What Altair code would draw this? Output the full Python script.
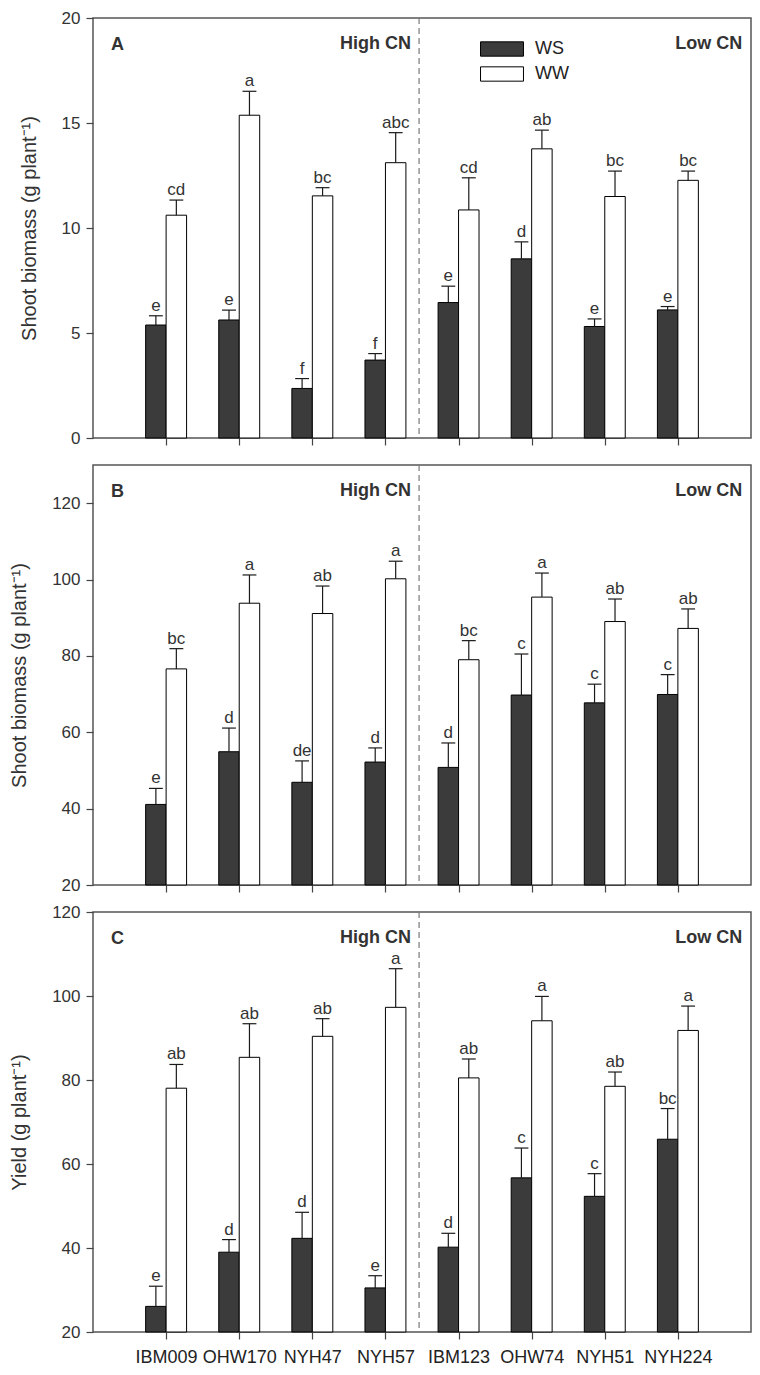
import altair as alt
import pandas as pd

genotypes = ["IBM009", "OHW170", "NYH47", "NYH57", "IBM123", "OHW74", "NYH51", "NYH224"]
positions = [1, 2, 3, 4, 5, 6, 7, 8]
treatments = ["WS", "WW"]

# Panel A: shoot biomass (early)
a_ws = [5.38, 5.62, 2.36, 3.71, 6.45, 8.53, 5.31, 6.10]
a_ws_se = [0.44, 0.47, 0.47, 0.31, 0.78, 0.81, 0.36, 0.16]
a_ww = [10.61, 15.37, 11.53, 13.11, 10.86, 13.77, 11.50, 12.27]
a_ww_se = [0.72, 1.14, 0.39, 1.43, 1.53, 0.89, 1.21, 0.44]
a_ws_let = ["e", "e", "f", "f", "e", "d", "e", "e"]
a_ww_let = ["cd", "a", "bc", "abc", "cd", "ab", "bc", "bc"]

# Panel B: shoot biomass (final)
b_ws = [41.1, 54.9, 46.9, 52.2, 50.8, 69.75, 67.7, 69.9]
b_ws_se = [4.2, 6.2, 5.6, 3.7, 6.4, 10.75, 4.9, 5.2]
b_ww = [76.6, 93.8, 91.1, 100.2, 79.0, 95.4, 89.0, 87.2]
b_ww_se = [5.3, 7.4, 7.2, 4.6, 5.0, 6.3, 5.9, 5.1]
b_ws_let = ["e", "d", "de", "d", "d", "c", "c", "c"]
b_ww_let = ["bc", "a", "ab", "a", "bc", "a", "ab", "ab"]

# Panel C: yield
c_ws = [26.1, 39.0, 42.3, 30.5, 40.2, 56.7, 52.3, 65.9]
c_ws_se = [4.8, 3.0, 6.2, 2.9, 3.3, 7.1, 5.4, 7.3]
c_ww = [78.05, 85.4, 90.4, 97.3, 80.5, 94.1, 78.5, 91.8]
c_ww_se = [5.65, 8.0, 4.2, 9.2, 4.5, 5.8, 3.4, 5.8]
c_ws_let = ["e", "d", "d", "e", "d", "c", "c", "bc"]
c_ww_let = ["ab", "ab", "ab", "a", "ab", "a", "ab", "a"]

group_labels = ["High CN", "Low CN"]
group_label_x = [4.35, 8.88]
divider_x = [4.46]

FONT = "Liberation Sans"
TXT = "#333333"
PW = 658
PH = 420

label_expr = "[" + ",".join("'%s'" % g for g in genotypes) + "][datum.value - 1]"


def make_panel(ws, ws_se, ww, ww_se, ws_let, ww_let, ymin, ymax, yticks,
               ytitle, letter, show_legend, show_labels):
    rows = []
    for i, g in enumerate(genotypes):
        rows.append({"pos": positions[i], "genotype": g, "treatment": "WS",
                     "mean": ws[i], "se": ws_se[i], "letter": ws_let[i]})
        rows.append({"pos": positions[i], "genotype": g, "treatment": "WW",
                     "mean": ww[i], "se": ww_se[i], "letter": ww_let[i]})
    df = pd.DataFrame(rows)

    xscale = alt.Scale(domain=[0, 9], nice=False, zero=False)
    yscale = alt.Scale(domain=[ymin, ymax], nice=False, zero=False)

    xaxis_kw = dict(values=positions, grid=False, domain=False, tickSize=7,
                    tickColor="#444444", tickWidth=1.2, labels=show_labels)
    if show_labels:
        xaxis_kw.update(labelExpr=label_expr, labelFontSize=18, labelColor="#222222",
                        labelPadding=9, labelOverlap=False, labelFont=FONT)
    xaxis = alt.Axis(**xaxis_kw)
    yaxis = alt.Axis(values=yticks, grid=False, domain=False, tickSize=7,
                     tickColor="#444444", tickWidth=1.2, labelFontSize=17,
                     labelColor=TXT, labelPadding=6, labelFont=FONT,
                     titleFontSize=20, titleFontWeight="normal", titleColor=TXT,
                     titlePadding=22, titleFont=FONT)

    def X(field):
        return alt.X(field, scale=xscale, axis=xaxis, title="")

    def Y(field):
        return alt.Y(field, scale=yscale, axis=yaxis, title=ytitle)

    base = alt.Chart(df).transform_calculate(
        x0="datum.treatment == 'WS' ? datum.pos - 0.28 : datum.pos",
        x1="datum.treatment == 'WS' ? datum.pos : datum.pos + 0.28",
        xc="datum.treatment == 'WS' ? datum.pos - 0.14 : datum.pos + 0.14",
        top="datum.mean + datum.se",
    ).transform_calculate(
        xl="datum.xc - 0.095",
        xr="datum.xc + 0.095",
    )

    if show_legend:
        legend = alt.Legend(title=None, orient="none", legendX=400, legendY=22,
                            symbolType="M-3,-1H3V1H-3Z", symbolSize=205,
                            symbolStrokeColor="black", symbolStrokeWidth=1,
                            symbolOpacity=1,
                            labelFontSize=18, labelColor="#222222", labelFont=FONT,
                            labelOffset=24, rowPadding=5)
    else:
        legend = None

    bars = base.mark_bar(stroke="black", strokeWidth=1, opacity=1).encode(
        x=X("x0:Q"),
        x2="x1:Q",
        y=Y("mean:Q"),
        y2=alt.datum(ymin),
        fill=alt.Fill("treatment:N",
                      scale=alt.Scale(domain=treatments, range=["#3b3b3b", "#ffffff"]),
                      legend=legend),
    )
    stems = base.mark_rule(color="#1a1a1a", strokeWidth=1.2).encode(
        x=X("xc:Q"), y=Y("mean:Q"), y2="top:Q")
    caps = base.mark_rule(color="#1a1a1a", strokeWidth=1.2).encode(
        x=X("xl:Q"), x2="xr:Q", y=Y("top:Q"))
    letters = base.mark_text(fontSize=17, dy=-5, baseline="alphabetic",
                             color=TXT, font=FONT).encode(
        x=X("xc:Q"), y=Y("top:Q"), text="letter:N")

    divider = alt.Chart(pd.DataFrame({"x": divider_x})).mark_rule(
        color="#7a7a7a", strokeWidth=1.2, strokeDash=[6, 4]).encode(x=X("x:Q"))

    panel_letter = alt.Chart(pd.DataFrame({"t": [letter]})).mark_text(
        fontSize=18, fontWeight="bold", align="left", baseline="alphabetic",
        color=TXT, font=FONT).encode(x=alt.value(18), y=alt.value(32), text="t:N")

    groups = alt.Chart(pd.DataFrame({"label": group_labels, "x": group_label_x})).mark_text(
        fontSize=18, fontWeight="bold", align="right", baseline="alphabetic",
        color=TXT, font=FONT).encode(x=X("x:Q"), y=alt.value(31), text="label:N")

    return alt.layer(bars, stems, caps, letters, divider, panel_letter, groups).properties(
        width=PW, height=PH)


pA = make_panel(a_ws, a_ws_se, a_ww, a_ww_se, a_ws_let, a_ww_let, 0, 20,
                [0, 5, 10, 15, 20], "Shoot biomass (g plant\u207b\u00b9)", "A", True, False)
pB = make_panel(b_ws, b_ws_se, b_ww, b_ww_se, b_ws_let, b_ww_let, 20, 130,
                [20, 40, 60, 80, 100, 120], "Shoot biomass (g plant\u207b\u00b9)", "B", False, False)
pC = make_panel(c_ws, c_ws_se, c_ww, c_ww_se, c_ws_let, c_ww_let, 20, 120,
                [20, 40, 60, 80, 100, 120], "Yield (g plant\u207b\u00b9)", "C", False, True)

chart = alt.vconcat(pA, pB, pC, spacing=27, bounds="flush").resolve_scale(
    x="independent", y="independent", fill="independent"
).resolve_legend(fill="independent").properties(
    padding={"left": 0, "top": 0, "right": 0, "bottom": 0}
).configure(font=FONT).configure_view(stroke="#555555", strokeWidth=1.5)

chart.save("out.html", embed_options={"renderer": "svg", "actions": False})
